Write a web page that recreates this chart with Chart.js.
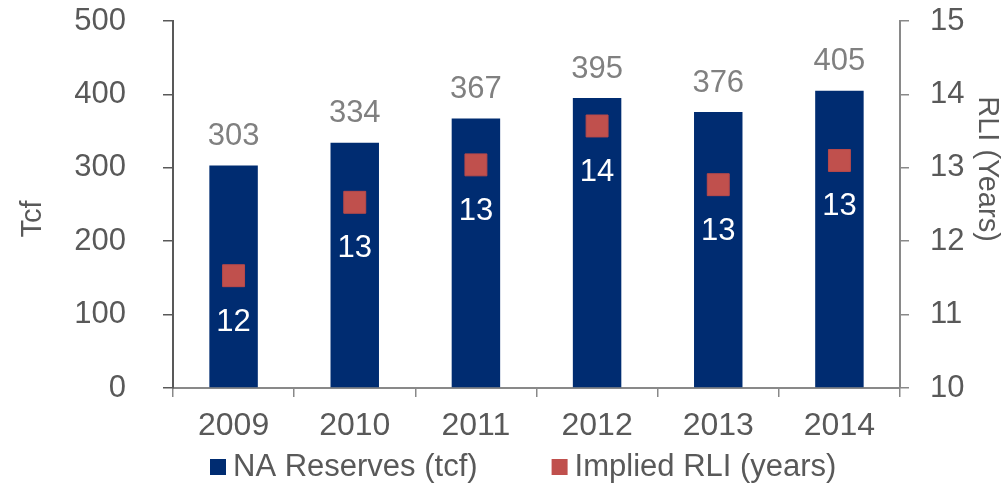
<!DOCTYPE html>
<html>
<head>
<meta charset="utf-8">
<script src="https://cdn.jsdelivr.net/npm/chart.js@4.4.1/dist/chart.umd.min.js"></script>
<style>
html,body{margin:0;padding:0;background:#ffffff;}
#wrap{width:1002px;height:483px;position:relative;}
</style>
</head>
<body>
<div id="wrap"><canvas id="c" width="1002" height="483"></canvas></div>
<script>
// ---- data ----
const years = ['2009', '2010', '2011', '2012', '2013', '2014'];
const reserves = [303, 334, 367, 395, 376, 405];
const rli = [11.53, 12.53, 13.04, 13.57, 12.77, 13.10];
const leftTicks = [0, 100, 200, 300, 400, 500];
const rightTicks = [10, 11, 12, 13, 14, 15];
const seriesNames = ['NA Reserves (tcf)', 'Implied RLI (years)'];
const axisTitles = ['Tcf', 'RLI (Years)'];

// ---- style ----
const FONT = "'Liberation Sans', Arial, Helvetica, sans-serif";
const NAVY = '#002C71';
const RED = '#C0504D';
const TEXT = '#595959';
const LIGHT = '#808080';
const AXIS = '#898989';

const overlay = {
  id: 'overlay',
  afterDatasetsDraw(chart) {
    const ctx = chart.ctx;
    ctx.save();
    ctx.textAlign = 'center';
    ctx.textBaseline = 'alphabetic';
    const barMeta = chart.getDatasetMeta(0);
    ctx.font = '31px ' + FONT;
    ctx.fillStyle = LIGHT;
    barMeta.data.forEach((el, i) => {
      ctx.fillText(String(reserves[i]), el.x, el.y - 20.5);
    });
    const ptMeta = chart.getDatasetMeta(1);
    ctx.font = '31px ' + FONT;
    ctx.fillStyle = '#ffffff';
    ptMeta.data.forEach((el, i) => {
      ctx.fillText(String(Math.round(rli[i])), el.x, el.y + 55);
    });
    ctx.restore();
  },
  afterDraw(chart) {
    const ctx = chart.ctx;
    ctx.save();
    // axis titles
    ctx.fillStyle = TEXT;
    ctx.font = '29px ' + FONT;
    ctx.textAlign = 'center';
    ctx.textBaseline = 'middle';
    ctx.save();
    ctx.translate(33, 219);
    ctx.rotate(-Math.PI / 2);
    ctx.fillText(axisTitles[0], 0, 0);
    ctx.restore();
    ctx.save();
    ctx.translate(987, 169);
    ctx.rotate(Math.PI / 2);
    ctx.fillText(axisTitles[1], 0, 0);
    ctx.restore();
    // legend
    let x = 210;
    const box = 16;
    ctx.font = '31px ' + FONT;
    ctx.textAlign = 'left';
    ctx.textBaseline = 'alphabetic';
    chart.data.datasets.forEach(ds => {
      ctx.fillStyle = ds.backgroundColor;
      ctx.fillRect(x, 459, box, box);
      x += box + 7;
      ctx.fillStyle = TEXT;
      ctx.fillText(ds.label, x, 476);
      x += ctx.measureText(ds.label).width + 74;
    });
    ctx.restore();
  }
};

function fixVertical(w) {
  return function (scale) {
    scale.width = w;
    scale.paddingTop = 0;
    scale.paddingBottom = 0;
  };
}

new Chart(document.getElementById('c'), {
  data: {
    labels: years,
    datasets: [
      {
        type: 'bar',
        label: seriesNames[0],
        data: reserves,
        backgroundColor: NAVY,
        borderWidth: 0,
        yAxisID: 'y',
        categoryPercentage: 1.0,
        barPercentage: 0.4,
        order: 1
      },
      {
        type: 'line',
        label: seriesNames[1],
        data: rli,
        showLine: false,
        pointStyle: 'rect',
        pointRadius: 15.5,
        pointHoverRadius: 15.5,
        backgroundColor: RED,
        borderColor: '#B9494A',
        pointBorderWidth: 1,
        yAxisID: 'y1',
        order: 0
      }
    ]
  },
  options: {
    responsive: false,
    animation: false,
    events: [],
    layout: { padding: { top: 21, left: 0, right: 0, bottom: 0 } },
    plugins: {
      legend: { display: false },
      tooltip: { enabled: false },
      title: { display: false }
    },
    scales: {
      x: {
        type: 'category',
        offset: true,
        grid: {
          offset: true,
          drawOnChartArea: false,
          drawTicks: true,
          tickLength: 9,
          color: AXIS,
          tickColor: AXIS,
          lineWidth: 1.5
        },
        border: { display: true, color: AXIS, width: 2 },
        ticks: {
          color: TEXT,
          font: { family: FONT, size: 32 },
          padding: 10,
          maxRotation: 0,
          autoSkip: false
        },
        afterFit(scale) { scale.height = 95; scale.paddingLeft = 0; scale.paddingRight = 0; }
      },
      y: {
        position: 'left',
        min: leftTicks[0],
        max: leftTicks[leftTicks.length - 1],
        ticks: {
          stepSize: leftTicks[1] - leftTicks[0],
          color: TEXT,
          font: { family: FONT, size: 31 },
          padding: 37
        },
        grid: {
          drawOnChartArea: false,
          drawTicks: true,
          tickLength: 10,
          color: TEXT,
          tickColor: TEXT,
          lineWidth: 1.5
        },
        border: { display: true, color: TEXT, width: 2 },
        afterFit: fixVertical(173)
      },
      y1: {
        position: 'right',
        min: rightTicks[0],
        max: rightTicks[rightTicks.length - 1],
        ticks: {
          stepSize: rightTicks[1] - rightTicks[0],
          color: TEXT,
          font: { family: FONT, size: 31 },
          padding: 21
        },
        grid: {
          drawOnChartArea: false,
          drawTicks: true,
          tickLength: 9,
          color: AXIS,
          tickColor: AXIS,
          lineWidth: 1.5
        },
        border: { display: true, color: AXIS, width: 2 },
        afterFit: fixVertical(102)
      }
    }
  },
  plugins: [overlay]
});
</script>
</body>
</html>
